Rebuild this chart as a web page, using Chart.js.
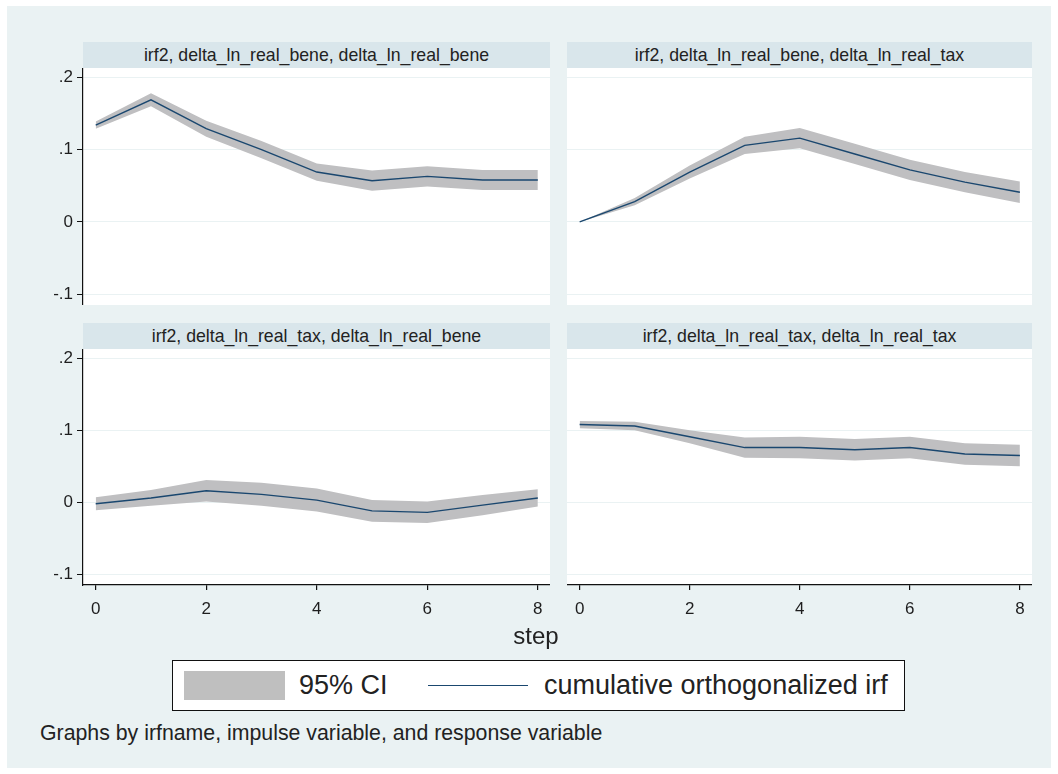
<!DOCTYPE html>
<html>
<head>
<meta charset="utf-8">
<script src="https://cdn.jsdelivr.net/npm/chart.js@4.4.0/dist/chart.umd.min.js"></script>
<style>
body { margin: 0; background: #fff; font-family: "Liberation Sans", Arial, sans-serif; color: #222; }
#graph { position: absolute; left: 7px; top: 6px; width: 1044px; height: 762px; background: #eaf2f3; }
canvas { position: absolute; }
.strip { position: absolute; height: 26px; line-height: 26px; background: #d9e6eb; text-align: center; font-size: 17.7px; color: #222; white-space: nowrap; }
#step { position: absolute; left: 486px; width: 100px; top: 622px; line-height: 28px; text-align: center; font-size: 24px; }
#legend { position: absolute; left: 172px; top: 660px; width: 731px; height: 49px; border: 1px solid #111; background: #fff; }
#legend div { position: absolute; }
#legend .sw { left: 11px; top: 10px; width: 101px; height: 29px; background: #bfbfbf; }
#legend .ln { left: 255px; top: 24px; width: 100px; height: 0; border-top: 1.3px solid #1a476f; }
#legend .txt { top: 0; line-height: 49px; font-size: 27px; white-space: nowrap; }
#note { position: absolute; left: 40px; top: 721px; font-size: 21.3px; line-height: 24px; white-space: nowrap; }
</style>
</head>
<body>
<div id="graph"></div>

<div class="strip" style="left:83px; top:42px; width:467px;">irf2, delta_ln_real_bene, delta_ln_real_bene</div>
<div class="strip" style="left:567px; top:42px; width:465px;">irf2, delta_ln_real_bene, delta_ln_real_tax</div>
<div class="strip" style="left:83px; top:323px; width:467px;">irf2, delta_ln_real_tax, delta_ln_real_bene</div>
<div class="strip" style="left:567px; top:323px; width:465px;">irf2, delta_ln_real_tax, delta_ln_real_tax</div>

<canvas id="c1" width="550" height="237" style="left:0px; top:68px;"></canvas>
<canvas id="c2" width="465" height="237" style="left:567px; top:68px;"></canvas>
<canvas id="c3" width="550" height="276" style="left:0px; top:349px;"></canvas>
<canvas id="c4" width="465" height="276" style="left:567px; top:349px;"></canvas>

<div id="step">step</div>

<div id="legend">
  <div class="sw"></div>
  <div class="txt" style="left:126px;">95% CI</div>
  <div class="ln"></div>
  <div class="txt" style="left:371px;">cumulative orthogonalized irf</div>
</div>

<div id="note">Graphs by irfname, impulse variable, and response variable</div>

<script>
var steps = [0, 1, 2, 3, 4, 5, 6, 7, 8];
var xTicks = [0, 2, 4, 6, 8];
var yTicks = [-0.1, 0, 0.1, 0.2];
var yTickLabels = ["-.1", "0", ".1", ".2"];

// bene -> bene
var irfBB = [0.134, 0.169, 0.129, 0.100, 0.069, 0.057, 0.063, 0.058, 0.058];
var loBB  = [0.129, 0.160, 0.118, 0.088, 0.057, 0.043, 0.049, 0.044, 0.044];
var hiBB  = [0.139, 0.178, 0.140, 0.112, 0.081, 0.071, 0.077, 0.072, 0.072];

// bene -> tax
var irfBT = [0.000, 0.028, 0.069, 0.106, 0.116, 0.094, 0.072, 0.055, 0.041];
var loBT  = [0.000, 0.023, 0.060, 0.094, 0.102, 0.080, 0.058, 0.041, 0.026];
var hiBT  = [0.000, 0.033, 0.078, 0.118, 0.130, 0.108, 0.086, 0.069, 0.056];

// tax -> bene
var irfTB = [-0.002, 0.006, 0.016, 0.011, 0.003, -0.012, -0.014, -0.004, 0.006];
var loTB  = [-0.011, -0.005, 0.001, -0.005, -0.013, -0.027, -0.029, -0.018, -0.006];
var hiTB  = [0.007, 0.017, 0.031, 0.027, 0.019, 0.003, 0.001, 0.010, 0.018];

// tax -> tax
var irfTT = [0.108, 0.106, 0.091, 0.076, 0.076, 0.073, 0.076, 0.067, 0.065];
var loTT  = [0.103, 0.100, 0.082, 0.062, 0.061, 0.058, 0.061, 0.052, 0.050];
var hiTT  = [0.113, 0.112, 0.100, 0.090, 0.091, 0.088, 0.091, 0.082, 0.080];

var bandColor = "#bfbfc1";
var lineColor = "#1a476f";
var gridColor = "#eaf2f3";

Chart.defaults.font.family = "'Liberation Sans', Arial, sans-serif";
Chart.defaults.font.size = 17;
Chart.defaults.color = "#1e1e1e";

function pts(vals) {
    return steps.map(function (s, i) { return { x: s, y: vals[i] }; });
}

function makePanel(id, irf, lo, hi, showY, showX) {
    new Chart(document.getElementById(id), {
        type: "line",
        data: {
            datasets: [
                { data: pts(irf), borderColor: lineColor, borderWidth: 1.4, pointRadius: 0, fill: false, order: 0 },
                { data: pts(lo), borderWidth: 0, borderColor: bandColor, pointRadius: 0, fill: false, order: 1 },
                { data: pts(hi), borderWidth: 0, borderColor: bandColor, backgroundColor: bandColor, pointRadius: 0, fill: "-1", order: 2 }
            ]
        },
        options: {
            responsive: false,
            animation: false,
            events: [],
            layout: { padding: 0, autoPadding: false },
            plugins: {
                legend: { display: false },
                tooltip: { enabled: false },
                filler: { drawTime: "beforeDatasetsDraw" }
            },
            scales: {
                x: {
                    type: "linear",
                    display: showX,
                    min: -0.23,
                    max: 8.22,
                    afterBuildTicks: function (s) { s.ticks = xTicks.map(function (v) { return { value: v }; }); },
                    afterFit: function (s) {
                        s.height = showX ? 40 : 0;
                        s.paddingLeft = 0; s.paddingRight = 0;
                    },
                    grid: { drawOnChartArea: false, tickLength: 5, tickColor: "#111", lineWidth: 1.2 },
                    border: { display: true, color: "#111", width: 1.2 },
                    ticks: { padding: 9, maxRotation: 0 }
                },
                y: {
                    type: "linear",
                    min: -0.115,
                    max: 0.213,
                    afterBuildTicks: function (s) { s.ticks = yTicks.map(function (v) { return { value: v }; }); },
                    afterFit: function (s) {
                        s.width = showY ? 83 : 0;
                        s.paddingTop = 0; s.paddingBottom = 0;
                    },
                    grid: { color: gridColor, lineWidth: 1, drawTicks: showY, tickLength: 6, tickColor: "#111" },
                    border: { display: showY, color: "#111", width: 1.2 },
                    ticks: {
                        display: showY,
                        padding: 4,
                        callback: function (v) {
                            var i = yTicks.findIndex(function (t) { return Math.abs(t - v) < 1e-9; });
                            return i >= 0 ? yTickLabels[i] : "";
                        }
                    }
                }
            }
        },
        plugins: [{
            id: "whiteArea",
            beforeDraw: function (chart) {
                var a = chart.chartArea, ctx = chart.ctx;
                ctx.save();
                ctx.fillStyle = "#fff";
                ctx.fillRect(a.left, a.top, a.right - a.left, a.bottom - a.top);
                ctx.restore();
            }
        }]
    });
}

makePanel("c1", irfBB, loBB, hiBB, true, false);
makePanel("c2", irfBT, loBT, hiBT, false, false);
makePanel("c3", irfTB, loTB, hiTB, true, true);
makePanel("c4", irfTT, loTT, hiTT, false, true);
</script>
</body>
</html>
